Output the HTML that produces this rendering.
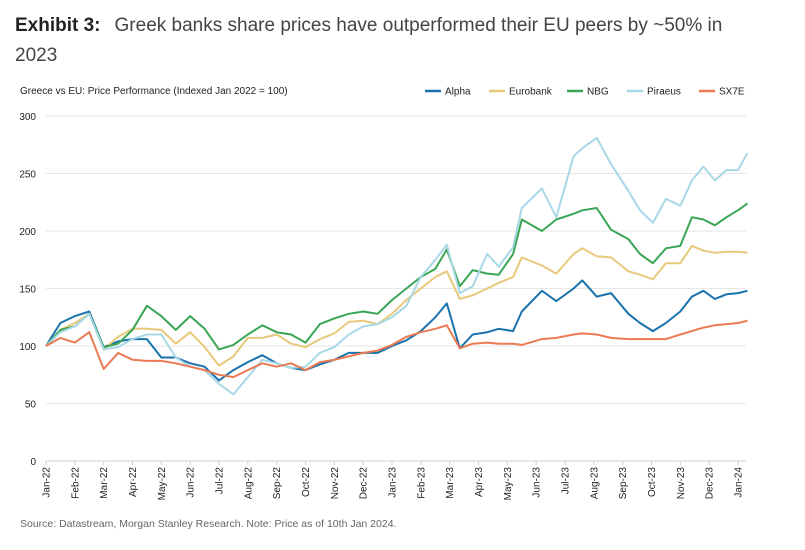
<!DOCTYPE html>
<html><head><meta charset="utf-8"><style>
body{margin:0;background:#fff;font-family:"Liberation Sans",sans-serif;}
</style></head><body>
<svg width="805" height="545" viewBox="0 0 805 545" xmlns="http://www.w3.org/2000/svg" id="chart" font-family="Liberation Sans, sans-serif">
<text x="15" y="31" font-size="19" fill="#444"><tspan font-weight="bold" fill="#222">Exhibit 3:</tspan><tspan dx="14">Greek banks share prices have outperformed their EU peers by ~50% in</tspan></text>
<text x="15" y="61" font-size="19" fill="#444">2023</text>
<text x="20" y="94" font-size="10" fill="#222">Greece vs EU: Price Performance (Indexed Jan 2022 = 100)</text>
<g id="legend"></g>
<g id="axes"></g>
<g id="series"></g>
<text x="20" y="527" font-size="10.5" fill="#666">Source: Datastream, Morgan Stanley Research. Note: Price as of 10th Jan 2024.</text>
</svg>
<script>
const t=[0,0.5,1,1.5,2,2.5,3,3.5,4,4.5,5,5.5,6,6.5,7,7.5,8,8.5,9,9.5,10,10.5,11,11.5,12,12.5,13,13.5,13.9,14.35,14.8,15.3,15.7,16.2,16.5,17.2,17.7,18.3,18.6,19.1,19.6,20.2,20.6,21.05,21.5,22,22.4,22.8,23.2,23.6,24,24.33];
const alpha=[100,120,126,130,99,104,106,106,90,90,85,82,70,79,86,92,85,81,79,84,88,94,94,94,100,105,113,125,137,98,110,112,115,113,130,148,139,150,157,143,146,128,120,113,120,130,143,148,141,145,146,148];
const eurobank=[100,114,120,128,97,108,115,115,114,102,112,99,83,91,107,107,110,102,99,106,111,121,122,119,128,140,150,160,165,141,144,150,155,160,177,170,163,180,185,178,177,165,162,158,172,172,187,183,181,182,182,181];
const nbg=[100,114,117,128,99,102,114,135,126,114,126,115,97,101,110,118,112,110,103,119,124,128,130,128,140,150,160,167,184,152,166,163,162,180,210,200,210,215,218,220,201,193,180,172,185,187,212,210,205,212,218,224];
const piraeus=[100,112,117,128,97,99,106,110,110,90,82,79,67,58,73,88,85,81,82,94,99,110,117,119,125,135,160,175,188,146,152,180,169,186,220,237,212,265,272,281,258,235,218,207,228,222,244,256,244,253,253,268];
const sx7e=[100,107,103,112,80,94,88,87,87,85,82,79,75,73,79,85,82,85,79,86,88,91,94,96,101,108,112,115,118,98,102,103,102,102,101,106,107,110,111,110,107,106,106,106,106,110,113,116,118,119,120,122];
const seriesNames=["Alpha","Eurobank","NBG","Piraeus","SX7E"];
const seriesData=[alpha,eurobank,nbg,piraeus,sx7e];
const colors=["#1a72ad","#e8c87a","#3aa655","#a8d8e6","#ec7a52"];
const yTicks=[0,50,100,150,200,250,300];
const xLabels=["Jan-22","Feb-22","Mar-22","Apr-22","May-22","Jun-22","Jul-22","Aug-22","Sep-22","Oct-22","Nov-22","Dec-22","Jan-23","Feb-23","Mar-23","Apr-23","May-23","Jun-23","Jul-23","Aug-23","Sep-23","Oct-23","Nov-23","Dec-23","Jan-24"];
const NS="http://www.w3.org/2000/svg";
const x0=46,x1=738,y0=461,y1=116;
const X=v=>x0+(x1-x0)*v/24;
const Y=v=>y0-(y0-y1)*v/300;
const axes=document.getElementById('axes');
function mk(tag,attrs,parent){const e=document.createElementNS(NS,tag);for(const k in attrs)e.setAttribute(k,attrs[k]);parent.appendChild(e);return e;}
yTicks.forEach(v=>{
  const tx=mk('text',{x:36,y:Y(v)+4,'font-size':10,'text-anchor':'end',fill:'#222'},axes);
  tx.textContent=v;
  
  
  if(v>0){const g=mk('line',{x1:x0,x2:x1+8,y1:Y(v),y2:Y(v),stroke:'#e6e6e6'},axes);
  
  }
});
const ax=mk('line',{x1:x0,x2:x1+8,y1:y0,y2:y0,stroke:'#d0d0d0'},axes);


xLabels.forEach((l,i)=>{
  const tk=mk('line',{x1:X(i),x2:X(i),y1:y0,y2:y0+4,stroke:'#d0d0d0'},axes);
  
  
  const tx=mk('text',{x:0,y:0,'font-size':10,'text-anchor':'end',fill:'#222',transform:`translate(${X(i)+3.5},${y0+6}) rotate(-90)`},axes);
  tx.textContent=l;
  
  
});
const sg=document.getElementById('series');
seriesData.forEach((d,k)=>{
  const p=mk('polyline',{points:d.map((v,i)=>X(t[i]).toFixed(1)+','+Y(v).toFixed(1)).join(' '),fill:'none',stroke:colors[k],'stroke-width':2,'stroke-linejoin':'round'},sg);
  
  
});
const lg=document.getElementById('legend');
const lx=[425,489,567,627,699];
seriesNames.forEach((n,k)=>{
  const l=mk('line',{x1:lx[k],x2:lx[k]+16,y1:91,y2:91,stroke:colors[k],'stroke-width':2.5},lg);
  
  
  const tx=mk('text',{x:lx[k]+20,y:94.5,'font-size':10,fill:'#222'},lg);
  tx.textContent=n;
  
  
});
</script>
</body></html>
